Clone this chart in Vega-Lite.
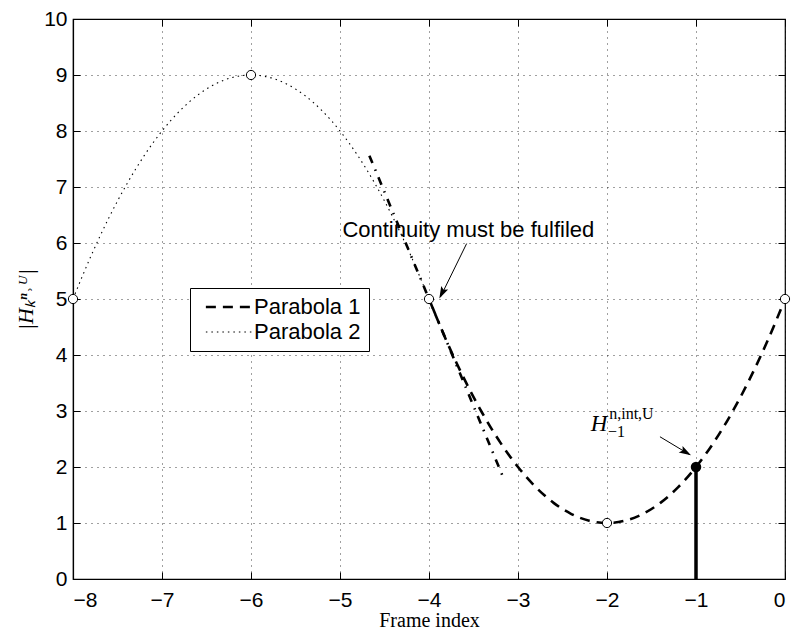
{
  "$schema": "https://vega.github.io/schema/vega-lite/v6.json",
  "width": 712,
  "height": 560,
  "autosize": {"type": "none"},
  "padding": {"left": 73, "top": 19, "right": 7, "bottom": 52},
  "background": "white",
  "config": {
    "view": {"stroke": "black", "strokeWidth": 1.2},
    "axis": {
      "labelFont": "Liberation Sans",
      "labelFontSize": 21,
      "labelColor": "black",
      "domainColor": "black",
      "domainWidth": 1.2,
      "tickColor": "black",
      "tickWidth": 1,
      "tickSize": -7,
      "gridColor": "black",
      "gridDash": [1, 5],
      "gridOpacity": 0.75,
      "gridWidth": 1,
      "titleFont": "Liberation Serif",
      "titleFontWeight": "normal",
      "titleFontSize": 20,
      "titleColor": "black"
    },
    "legend": {
      "orient": "none",
      "strokeColor": "black",
      "fillColor": "white",
      "padding": 8,
      "cornerRadius": 0,
      "labelFont": "Liberation Sans",
      "labelFontSize": 22,
      "labelColor": "black",
      "labelOffset": 34,
      "symbolType": "M-1,0L14,0",
      "symbolSize": 39,
      "symbolStrokeColor": "black",
      "symbolFillColor": "transparent",
      "rowPadding": 3
    }
  },
  "datasets": {
    "parabolas": [
      {"frame": -8.0, "value": 5.0, "series": "Parabola 2"},
      {"frame": -7.8, "value": 5.76, "series": "Parabola 2"},
      {"frame": -7.6, "value": 6.44, "series": "Parabola 2"},
      {"frame": -7.4, "value": 7.04, "series": "Parabola 2"},
      {"frame": -7.2, "value": 7.56, "series": "Parabola 2"},
      {"frame": -7.0, "value": 8.0, "series": "Parabola 2"},
      {"frame": -6.8, "value": 8.36, "series": "Parabola 2"},
      {"frame": -6.6, "value": 8.64, "series": "Parabola 2"},
      {"frame": -6.4, "value": 8.84, "series": "Parabola 2"},
      {"frame": -6.2, "value": 8.96, "series": "Parabola 2"},
      {"frame": -6.0, "value": 9.0, "series": "Parabola 2"},
      {"frame": -5.8, "value": 8.96, "series": "Parabola 2"},
      {"frame": -5.6, "value": 8.84, "series": "Parabola 2"},
      {"frame": -5.4, "value": 8.64, "series": "Parabola 2"},
      {"frame": -5.2, "value": 8.36, "series": "Parabola 2"},
      {"frame": -5.0, "value": 8.0, "series": "Parabola 2"},
      {"frame": -4.8, "value": 7.56, "series": "Parabola 2"},
      {"frame": -4.6, "value": 7.04, "series": "Parabola 2"},
      {"frame": -4.4, "value": 6.44, "series": "Parabola 2"},
      {"frame": -4.2, "value": 5.76, "series": "Parabola 2"},
      {"frame": -4.0, "value": 5.0, "series": "Parabola 2"},
      {"frame": -4.0, "value": 5.0, "series": "Parabola 1"},
      {"frame": -3.8, "value": 4.24, "series": "Parabola 1"},
      {"frame": -3.6, "value": 3.56, "series": "Parabola 1"},
      {"frame": -3.4, "value": 2.96, "series": "Parabola 1"},
      {"frame": -3.2, "value": 2.44, "series": "Parabola 1"},
      {"frame": -3.0, "value": 2.0, "series": "Parabola 1"},
      {"frame": -2.8, "value": 1.64, "series": "Parabola 1"},
      {"frame": -2.6, "value": 1.36, "series": "Parabola 1"},
      {"frame": -2.4, "value": 1.16, "series": "Parabola 1"},
      {"frame": -2.2, "value": 1.04, "series": "Parabola 1"},
      {"frame": -2.0, "value": 1.0, "series": "Parabola 1"},
      {"frame": -1.8, "value": 1.04, "series": "Parabola 1"},
      {"frame": -1.6, "value": 1.16, "series": "Parabola 1"},
      {"frame": -1.4, "value": 1.36, "series": "Parabola 1"},
      {"frame": -1.2, "value": 1.64, "series": "Parabola 1"},
      {"frame": -1.0, "value": 2.0, "series": "Parabola 1"},
      {"frame": -0.8, "value": 2.44, "series": "Parabola 1"},
      {"frame": -0.6, "value": 2.96, "series": "Parabola 1"},
      {"frame": -0.4, "value": 3.56, "series": "Parabola 1"},
      {"frame": -0.2, "value": 4.24, "series": "Parabola 1"},
      {"frame": 0.0, "value": 5.0, "series": "Parabola 1"}
    ],
    "tangent": [
      {"frame": -4.67, "value": 7.56},
      {"frame": -3.165, "value": 1.81}
    ],
    "knots": [
      {"frame": -8, "value": 5},
      {"frame": -6, "value": 9},
      {"frame": -4, "value": 5},
      {"frame": -2, "value": 1},
      {"frame": 0, "value": 5}
    ],
    "sample": [
      {"frame": -1, "value": 2, "base": 0}
    ],
    "arrows": [
      {"frame": -3.577, "value": 5.99, "frame2": -3.87, "value2": 5.04},
      {"frame": -1.405, "value": 2.54, "frame2": -1.07, "value2": 2.22}
    ]
  },
  "layer": [
    {
      "data": {"name": "parabolas"},
      "mark": {"type": "line", "interpolate": "monotone", "color": "black", "strokeCap": "butt"},
      "encoding": {
        "x": {
          "field": "frame", "type": "quantitative",
          "scale": {"domain": [-8, 0], "nice": false, "zero": false},
          "axis": {"orient": "bottom", "title": "Frame index", "values": [-8, -7, -6, -5, -4, -3, -2, -1, 0], "labelPadding": 17, "titlePadding": 0, "grid": true}
        },
        "y": {
          "field": "value", "type": "quantitative",
          "scale": {"domain": [0, 10], "nice": false, "zero": false},
          "axis": {"orient": "left", "title": "|Hₖⁿ˒ᵁ|", "titleFontStyle": "italic", "titleFontSize": 22, "values": [0, 1, 2, 3, 4, 5, 6, 7, 8, 9, 10], "labelPadding": 13, "titlePadding": 6, "grid": true}
        },
        "detail": {"field": "series"},
        "strokeDash": {
          "field": "series", "type": "nominal",
          "scale": {"domain": ["Parabola 1", "Parabola 2"], "range": [[10, 7], [1.5, 4]]},
          "legend": {"title": null, "legendX": 117, "legendY": 269}
        },
        "strokeWidth": {
          "field": "series", "type": "nominal",
          "scale": {"domain": ["Parabola 1", "Parabola 2"], "range": [2.6, 1.1]},
          "legend": {"title": null, "legendX": 117, "legendY": 269}
        }
      }
    },
    {
      "data": {"name": "tangent"},
      "mark": {"type": "line", "color": "black", "strokeWidth": 2.6, "strokeDash": [8, 7, 1.5, 7], "strokeCap": "butt"},
      "encoding": {
        "x": {"field": "frame", "type": "quantitative", "axis": null},
        "y": {"field": "value", "type": "quantitative", "axis": null}
      }
    },
    {
      "data": {"name": "sample"},
      "mark": {"type": "rule", "color": "black", "strokeWidth": 3.5},
      "encoding": {
        "x": {"field": "frame", "type": "quantitative", "axis": null},
        "y": {"field": "base", "type": "quantitative", "axis": null},
        "y2": {"field": "value"}
      }
    },
    {
      "data": {"name": "knots"},
      "mark": {"type": "point", "shape": "circle", "filled": true, "fill": "white", "stroke": "black", "strokeWidth": 1, "size": 85, "opacity": 1},
      "encoding": {
        "x": {
          "field": "frame", "type": "quantitative",
          "axis": {"orient": "top", "labels": false, "title": null, "grid": false, "domain": false, "values": [-8, -7, -6, -5, -4, -3, -2, -1, 0]}
        },
        "y": {
          "field": "value", "type": "quantitative",
          "axis": {"orient": "right", "labels": false, "title": null, "grid": false, "domain": false, "values": [0, 1, 2, 3, 4, 5, 6, 7, 8, 9, 10]}
        }
      }
    },
    {
      "data": {"name": "sample"},
      "mark": {"type": "point", "shape": "circle", "filled": true, "color": "black", "size": 110, "opacity": 1},
      "encoding": {
        "x": {"field": "frame", "type": "quantitative", "axis": null},
        "y": {"field": "value", "type": "quantitative", "axis": null}
      }
    },
    {
      "data": {"name": "arrows"},
      "mark": {"type": "rule", "color": "black", "strokeWidth": 1},
      "encoding": {
        "x": {"field": "frame", "type": "quantitative", "axis": null},
        "y": {"field": "value", "type": "quantitative", "axis": null},
        "x2": {"field": "frame2"},
        "y2": {"field": "value2"}
      }
    },
    {
      "data": {"values": [{"frame": -3.884, "value": 5.01}]},
      "mark": {"type": "point", "shape": "M0,0L-1,-0.32L-0.8,0L-1,0.32Z", "filled": true, "color": "black", "size": 576, "angle": 116.5, "opacity": 1},
      "encoding": {
        "x": {"field": "frame", "type": "quantitative", "axis": null},
        "y": {"field": "value", "type": "quantitative", "axis": null}
      }
    },
    {
      "data": {"values": [{"frame": -1.056, "value": 2.21}]},
      "mark": {"type": "point", "shape": "M0,0L-1,-0.32L-0.8,0L-1,0.32Z", "filled": true, "color": "black", "size": 576, "angle": 30, "opacity": 1},
      "encoding": {
        "x": {"field": "frame", "type": "quantitative", "axis": null},
        "y": {"field": "value", "type": "quantitative", "axis": null}
      }
    },
    {
      "data": {"values": [{"frame": -3.558, "value": 6.23, "note": "Continuity must be fulfiled"}]},
      "mark": {"type": "text", "font": "Liberation Sans", "fontSize": 22, "color": "black", "align": "center", "baseline": "middle"},
      "encoding": {
        "x": {"field": "frame", "type": "quantitative", "axis": null},
        "y": {"field": "value", "type": "quantitative", "axis": null},
        "text": {"field": "note"}
      }
    },
    {
      "data": {"values": [{"frame": -2.09, "value": 2.77, "note": "H"}]},
      "mark": {"type": "text", "font": "Liberation Serif", "fontSize": 23, "fontStyle": "italic", "color": "black", "align": "center", "baseline": "middle"},
      "encoding": {
        "x": {"field": "frame", "type": "quantitative", "axis": null},
        "y": {"field": "value", "type": "quantitative", "axis": null},
        "text": {"field": "note"}
      }
    },
    {
      "data": {"values": [{"frame": -1.975, "value": 2.95, "note": "n,int,U"}]},
      "mark": {"type": "text", "font": "Liberation Serif", "fontSize": 16, "color": "black", "align": "left", "baseline": "middle"},
      "encoding": {
        "x": {"field": "frame", "type": "quantitative", "axis": null},
        "y": {"field": "value", "type": "quantitative", "axis": null},
        "text": {"field": "note"}
      }
    },
    {
      "data": {"values": [{"frame": -1.99, "value": 2.62, "note": "−1"}]},
      "mark": {"type": "text", "font": "Liberation Serif", "fontSize": 16, "color": "black", "align": "left", "baseline": "middle"},
      "encoding": {
        "x": {"field": "frame", "type": "quantitative", "axis": null},
        "y": {"field": "value", "type": "quantitative", "axis": null},
        "text": {"field": "note"}
      }
    }
  ],
  "resolve": {"axis": {"x": "independent", "y": "independent"}}
}
